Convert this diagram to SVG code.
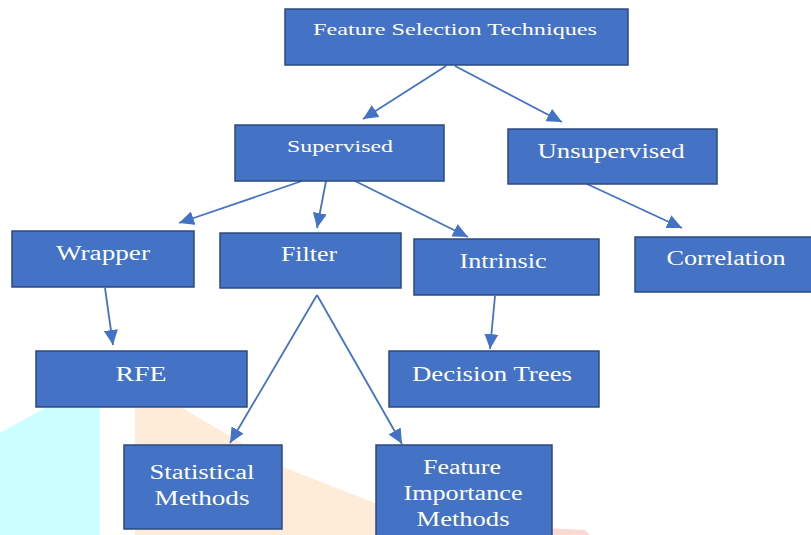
<svg xmlns="http://www.w3.org/2000/svg" width="811" height="535" viewBox="0 0 811 535">
<defs>
<style>
.box{fill:#4472C4;stroke:#2B4A80;stroke-width:1.5}
.lbl{font-family:"Liberation Serif","Times New Roman",serif;fill:#ffffff;text-anchor:middle;font-size:20px}
.sm{font-size:17px}
.big{font-size:21px}
.edge{stroke:#4472C4;stroke-width:1.8;fill:none;marker-end:url(#ah)}
</style>
<marker id="ah" markerUnits="userSpaceOnUse" markerWidth="16" markerHeight="14" refX="15" refY="7" orient="auto">
<path d="M0,0 L15,7 L0,14 Z" fill="#4472C4"/>
</marker>
</defs>
<rect width="811" height="535" fill="#ffffff"/>
<g id="watermark">
<polygon points="0,433 45,408 100,408 100,535 0,535" fill="#ccffff"/>
<polygon points="135,408 182,408 283,467 400,513 420,535 135,535" fill="#feecd9"/>
<polygon points="545,528 585,530 590,535 540,535" fill="#fcd9d3"/>
</g>
<g id="connectors">
<line class="edge" x1="446" y1="66" x2="363" y2="119"/>
<line class="edge" x1="455" y1="66" x2="562" y2="122"/>
<line class="edge" x1="302" y1="181" x2="179" y2="223"/>
<line class="edge" x1="326" y1="181" x2="317" y2="228"/>
<line class="edge" x1="355" y1="181" x2="468" y2="237"/>
<line class="edge" x1="587" y1="184" x2="682" y2="228"/>
<line class="edge" x1="105" y1="288" x2="113" y2="345"/>
<line class="edge" x1="317" y1="295" x2="230" y2="443"/>
<line class="edge" x1="317" y1="295" x2="402" y2="444"/>
<line class="edge" x1="495" y1="296" x2="490" y2="349"/>
</g>
<g id="n-fst">
<rect class="box" x="285" y="9" width="343" height="56"/>
<text class="lbl sm" x="455" y="35" textLength="284" lengthAdjust="spacingAndGlyphs">Feature Selection Techniques</text>
</g>
<g id="n-supervised">
<rect class="box" x="235" y="125" width="209" height="56"/>
<text class="lbl sm" x="340" y="152" textLength="106" lengthAdjust="spacingAndGlyphs">Supervised</text>
</g>
<g id="n-unsupervised">
<rect class="box" x="508" y="129" width="209" height="55"/>
<text class="lbl big" x="611" y="158" textLength="147" lengthAdjust="spacingAndGlyphs">Unsupervised</text>
</g>
<g id="n-wrapper">
<rect class="box" x="12" y="231" width="182" height="56"/>
<text class="lbl" x="103" y="260" textLength="94" lengthAdjust="spacingAndGlyphs">Wrapper</text>
</g>
<g id="n-filter">
<rect class="box" x="220" y="233" width="181" height="55"/>
<text class="lbl" x="309" y="261" textLength="56" lengthAdjust="spacingAndGlyphs">Filter</text>
</g>
<g id="n-intrinsic">
<rect class="box" x="414" y="239" width="185" height="56"/>
<text class="lbl" x="503" y="268" textLength="87" lengthAdjust="spacingAndGlyphs">Intrinsic</text>
</g>
<g id="n-correlation">
<rect class="box" x="635" y="237" width="180" height="55"/>
<text class="lbl" x="726" y="265" textLength="119" lengthAdjust="spacingAndGlyphs">Correlation</text>
</g>
<g id="n-rfe">
<rect class="box" x="36" y="351" width="211" height="56"/>
<text class="lbl" x="141" y="381" textLength="51" lengthAdjust="spacingAndGlyphs">RFE</text>
</g>
<g id="n-decision">
<rect class="box" x="389" y="351" width="210" height="56"/>
<text class="lbl" x="492" y="381" textLength="160" lengthAdjust="spacingAndGlyphs">Decision Trees</text>
</g>
<g id="n-statistical">
<rect class="box" x="124" y="445" width="158" height="84"/>
<text class="lbl" x="202" y="479" textLength="105" lengthAdjust="spacingAndGlyphs">Statistical</text>
<text class="lbl" x="202" y="505" textLength="95" lengthAdjust="spacingAndGlyphs">Methods</text>
</g>
<g id="n-importance">
<rect class="box" x="376" y="445" width="176" height="100"/>
<text class="lbl" x="462" y="474" textLength="78" lengthAdjust="spacingAndGlyphs">Feature</text>
<text class="lbl" x="463" y="500" textLength="119" lengthAdjust="spacingAndGlyphs">Importance</text>
<text class="lbl" x="463" y="526" textLength="93" lengthAdjust="spacingAndGlyphs">Methods</text>
</g>
</svg>
